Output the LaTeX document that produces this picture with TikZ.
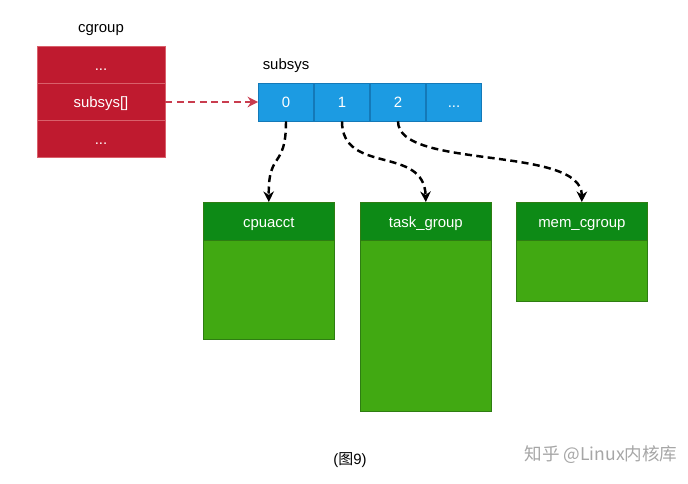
\documentclass[tikz,border=0pt]{standalone}
\usepackage{fontspec}
\setmainfont{Liberation Sans}
\newfontfamily\cjk{Noto Sans CJK SC}
\usepackage{tikz}
\usetikzlibrary{arrows.meta}
\definecolor{cgred}{HTML}{BF1A2F}
\definecolor{cgedge}{HTML}{D9606B}
\definecolor{sysblue}{HTML}{1C9BE2}
\definecolor{sysedge}{HTML}{1479B8}
\definecolor{grpdark}{HTML}{0D8A16}
\definecolor{grplight}{HTML}{41A912}
\definecolor{grpedge}{HTML}{2E7D12}
\tikzset{
  boxtext/.style={text=white, inner sep=0pt, text height=1.55ex, text depth=0.3ex, font=\fontsize{8.5}{10}\selectfont},
  redrow/.style={boxtext, draw=cgedge, fill=cgred, minimum width=2.56cm, minimum height=0.74cm},
  slotbox/.style={boxtext, draw=sysedge, fill=sysblue, minimum width=1.1cm, minimum height=0.76cm},
  grphead/.style={boxtext, draw=grpedge, fill=grpdark, minimum width=2.62cm, minimum height=0.76cm, anchor=north west},
  grpbody/.style={draw=grpedge, fill=grplight},
  ptr/.style={dash pattern=on 4pt off 2.5pt, line width=1.4pt, -{Stealth[length=6pt,width=6pt]}},
  lbl/.style={font=\fontsize{8.5}{10}\selectfont}
}
\newcommand{\slot}[3]{\node[slotbox] (#1) at (#2,102) {#3};}
\newcommand{\grp}[4]{ \node[grphead] (#1) at (#2,202) {#4};
  \draw[grpbody] (#1.south west) rectangle ++(131,#3);}

\begin{document}
\begin{tikzpicture}[x=0.02cm,y=-0.02cm]
        \useasboundingbox (0,0) rectangle (688,483);

        % cgroup
        \node[lbl] (cgname) at (101,30) {cgroup};
        \node[redrow] (cgtop) at (101,65) {...};
        \node[redrow] (cgsub) at (101,102) {subsys[]};
        \node[redrow] (cgbot) at (101,139) {...};

        % subsys array
        \node[lbl] (sysname) at (286,66) {subsys};
        \slot{s0}{286}{0}
        \slot{s1}{342}{1}
        \slot{s2}{398}{2}
        \slot{s3}{454}{...}

        \draw[ptr, draw=cgred!85!white] (cgsub.east) -- (s0.west);

        % groups
        \grp{cpu}{203}{99}{cpuacct}
        \grp{task}{360}{171}{task\_group}
        \grp{mem}{516}{61}{mem\_cgroup}

        \draw[ptr] (s0.south) .. controls (286,170) and (268,150) .. (cpu.north);
        \draw[ptr] (s1.south) .. controls (342,175) and (424,145) .. (task.north);
        \draw[ptr] (s2.south) .. controls (398,170) and (582,145) .. (mem.north);

        % caption
        \node[lbl] (cap) at (350,460) {(\cjk 图\rmfamily 9)};
        \node[font=\fontsize{10}{12}\selectfont, text=gray!70] (mark) at (601,455) {\cjk 知乎 @Linux内核库};
    \end{tikzpicture}
\end{document}
